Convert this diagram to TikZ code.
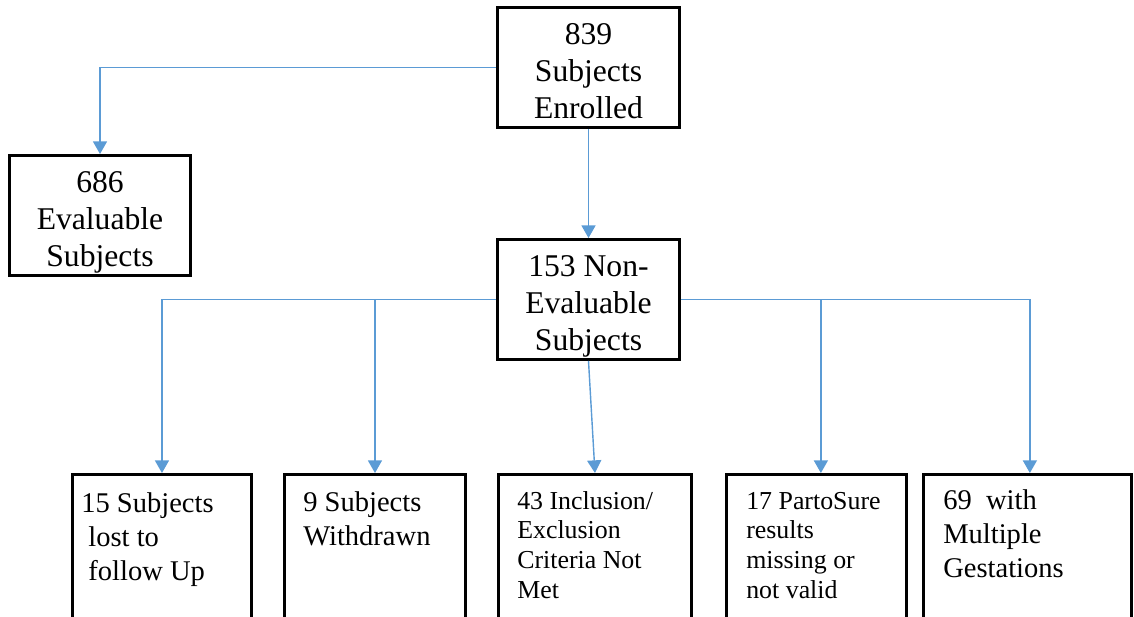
\documentclass[tikz,border=0pt]{standalone}
\usepackage{fontspec}
\setmainfont{Liberation Serif}
\usetikzlibrary{arrows.meta}
\definecolor{linkblue}{HTML}{5B9BD5}

\begin{document}
\begin{tikzpicture}[
        box/.style = {draw, line width = 2.1pt, minimum width = 4.55cm, minimum height = 3cm, inner sep = 0pt},
        lowbox/.style = {draw, line width = 2.1pt, minimum height = 4.5cm, inner sep = 0pt, anchor = north west},
        bigtext/.style = {align = center, font = \fontsize{22.5}{26.3}\selectfont, inner sep = 0pt, anchor = base},
        midtext/.style = {align = left, font = \fontsize{20.3}{24}\selectfont, inner sep = 0pt, anchor = base west},
        smalltext/.style = {align = left, font = \fontsize{18.4}{21}\selectfont, inner sep = 0pt, anchor = base west},
        link/.style = {draw = linkblue, line width = 1pt, -{Triangle[width = 10pt, length = 9pt]}}
    ]
        \useasboundingbox (0,0) rectangle (28.35,-15.425);
        \clip (0,0) rectangle (28.35,-15.425);
        % upper boxes
        \node [box] (enrolled) at (14.7125,-1.6875) {};
        \node [box, minimum width = 4.525cm] (evaluable) at (2.5,-5.3875) {};
        \node [box] (nonevaluable) at (14.7125,-7.4875) {};
        \node [bigtext] (enrolled text) at ([yshift=-2.8cm]enrolled.north) {839\\Subjects\\Enrolled};
        \node [bigtext] (evaluable text) at ([yshift=-2.8cm]evaluable.north) {686\\Evaluable\\Subjects};
        \node [bigtext] (nonevaluable text) at ([yshift=-2.8cm]nonevaluable.north) {153 Non-\\Evaluable\\Subjects};
        % lower boxes
        \node [lowbox, minimum width = 4.475cm] (lost) at (1.775,-11.825) {};
        \node [lowbox, minimum width = 4.525cm] (withdrawn) at (7.075,-11.825) {};
        \node [lowbox, minimum width = 4.825cm] (criteria) at (12.425,-11.825) {};
        \node [lowbox, minimum width = 4.5cm] (partosure) at (18.125,-11.825) {};
        \node [lowbox, minimum width = 5.2cm] (multiple) at (23.05,-11.825) {};
        \node [midtext] (lost text) at ([xshift=0.25cm,yshift=-2.675cm]lost.north west) {15 Subjects\\\ lost to\\\ follow Up};
        \node [midtext] (withdrawn text) at ([xshift=0.5cm,yshift=-1.8cm]withdrawn.north west) {9 Subjects\\Withdrawn};
        \node [smalltext] (criteria text) at ([xshift=0.5cm,yshift=-3.125cm]criteria.north west) {43 Inclusion/\\Exclusion\\Criteria Not\\Met};
        \node [smalltext] (partosure text) at ([xshift=0.525cm,yshift=-3.125cm]partosure.north west) {17 PartoSure\\results\\missing or\\not valid};
        \node [midtext] (multiple text) at ([xshift=0.525cm,yshift=-2.6cm]multiple.north west) {69\ \ with\\Multiple\\Gestations};
        % connectors
        \draw [link] (enrolled.west) -| (evaluable.north);
        \draw [link] (enrolled.south) -- (nonevaluable.north);
        \foreach \kid in {lost,withdrawn}
        \draw [link] (nonevaluable.west) -| (\kid.north);
        \draw [link] (nonevaluable.south) -- (criteria.north);
        \draw [link] (nonevaluable.east) -| ([xshift=0.11cm]partosure.north);
        \draw [link] (nonevaluable.east) -| ([xshift=0.06cm]multiple.north);
    \end{tikzpicture}
\end{document}
